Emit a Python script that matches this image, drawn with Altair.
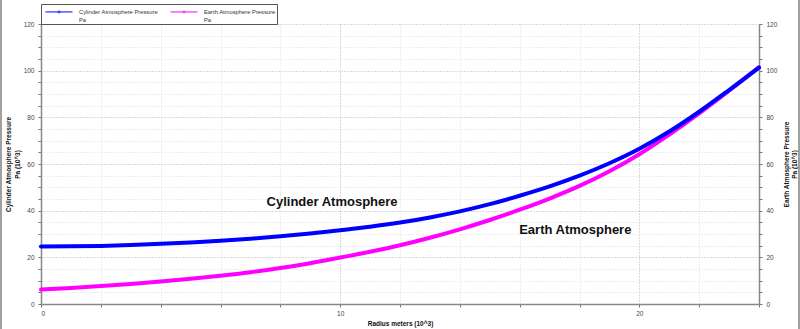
import altair as alt
import pandas as pd

radius = list(range(0, 25))
cylinder = [24.6, 24.7, 24.9, 25.3, 25.8, 26.4, 27.1, 28.0, 29.0, 30.2, 31.6, 33.1, 34.9,
            37.1, 39.7, 42.8, 46.4, 50.4, 55.0, 60.3, 66.5, 73.9, 82.4, 91.7, 101.3]
earth = [6.2, 6.9, 7.7, 8.6, 9.6, 10.8, 12.1, 13.6, 15.4, 17.5, 19.9, 22.4, 25.2,
         28.4, 32.0, 36.0, 40.4, 45.2, 50.6, 56.9, 64.2, 72.6, 81.7, 91.4, 101.5]
series_names = ["Cylinder", "Earth"]
series_colors = ["#0000ff", "#ff00ff"]
ann_text = ["Cylinder Atmosphere", "Earth Atmosphere"]
ann_x = [9.73, 17.86]
ann_y = [43.7, 31.7]

df = pd.DataFrame(
    {"x": radius * 2,
     "v": cylinder + earth,
     "s": ["Cylinder"] * len(radius) + ["Earth"] * len(radius)}
)
ann = pd.DataFrame({"t": ann_text, "x": ann_x, "y": ann_y})

FONT = "Liberation Sans, Arial, sans-serif"
grid_color = {"condition": {"test": "datum.value % 5 === 0", "value": "#b4b4b4"}, "value": "#dcdcdc"}
ygrid_color = {"condition": {"test": "datum.value % 20 === 0", "value": "#b4b4b4"}, "value": "#dcdcdc"}

xscale = alt.Scale(domain=[0, 24], nice=False, zero=False)
yscale = alt.Scale(domain=[0, 120], nice=False)

x_enc = alt.X(
    "x:Q", scale=xscale,
    axis=alt.Axis(values=list(range(0, 25)),
                  labelExpr="datum.value % 5 === 0 ? datum.label : ''",
                  title="Radius meters (10^3)", grid=True, gridColor=grid_color,
                  gridDash=[1, 2], titlePadding=4, labelPadding=3)
)

symbol_path = ("M-2.25,0L-0.17,0M0.17,0L2.25,0"
               "M0.17,0A0.17,0.17,0,1,1,-0.17,0A0.17,0.17,0,1,1,0.17,0")

color_enc = alt.Color(
    "s:N",
    scale=alt.Scale(domain=series_names, range=series_colors),
    legend=alt.Legend(
        orient="none", legendX=0, legendY=-20, direction="horizontal", title=None,
        strokeColor="#555555", padding=1, symbolOffset=10.5,
        symbolType=symbol_path,
        symbolSize=144, symbolStrokeWidth=1, symbolFillColor="transparent",
        labelExpr="datum.label == 'Cylinder' ? ['Cylinder Atmosphere Pressure', 'Pa'] : ['Earth Atmosphere Pressure', 'Pa']",
        labelFontSize=5.8, labelColor="#333333", labelFont=FONT, labelOffset=13.5,
        columnPadding=9, labelLimit=220,
    ),
)

earth_line = alt.Chart(df).transform_filter(alt.datum.s == "Earth").mark_line(
    strokeWidth=4, interpolate="monotone", strokeCap="round"
).encode(
    x=x_enc,
    y=alt.Y("v:Q", scale=yscale,
            axis=alt.Axis(orient="right", values=list(range(0, 121, 5)),
                          labelExpr="datum.value % 20 === 0 ? datum.label : ''",
                          title=["Earth Atmosphere Pressure", "Pa (10^3)"], titleAngle=270,
                          grid=False, titlePadding=4, labelPadding=4)),
    color=color_enc,
)

cyl_line = alt.Chart(df).transform_filter(alt.datum.s == "Cylinder").mark_line(
    strokeWidth=4, interpolate="monotone", strokeCap="round"
).encode(
    x=x_enc,
    y=alt.Y("v:Q", scale=yscale,
            axis=alt.Axis(orient="left", values=list(range(0, 121, 5)),
                          labelExpr="datum.value % 20 === 0 ? datum.label : ''",
                          title=["Cylinder Atmosphere Pressure", "Pa (10^3)"],
                          grid=True, gridColor=ygrid_color, gridDash=[1, 2],
                          titlePadding=3, labelPadding=4)),
    color=color_enc,
)

labels = alt.Chart(ann).mark_text(
    font=FONT, fontSize=13, fontWeight="bold", color="#111111"
).encode(
    x=alt.X("x:Q", scale=xscale),
    y=alt.Y("y:Q", scale=yscale, axis=None),
    text="t:N",
)

# thin grey window frame edges at the far left and right of the picture
frame_left = alt.Chart(ann).mark_rule(color="#9a9a9a", strokeWidth=1.5).encode(
    x=alt.value(-40), y=alt.value(-24), y2=alt.value(305)
)
frame_right = alt.Chart(ann).mark_rule(color="#9a9a9a", strokeWidth=1.5).encode(
    x=alt.value(758), y=alt.value(-24), y2=alt.value(305)
)

chart = alt.layer(earth_line, cyl_line, labels, frame_left, frame_right).resolve_scale(
    y="independent"
).properties(
    width=718, height=280,
    padding={"left": 41, "top": 24, "right": 41, "bottom": 25},
    autosize=alt.AutoSizeParams(type="none"),
    background="white",
).configure_view(
    stroke=None
).configure_axis(
    labelFont=FONT, labelFontSize=6.5, labelColor="#444444",
    titleFont=FONT, titleFontSize=6.5, titleFontWeight="bold", titleColor="#111111",
    domainColor="#888888", domainWidth=1.5, tickColor="#777777", tickSize=3,
)

chart.save("out.html", embed_options={"renderer": "svg", "actions": False})
